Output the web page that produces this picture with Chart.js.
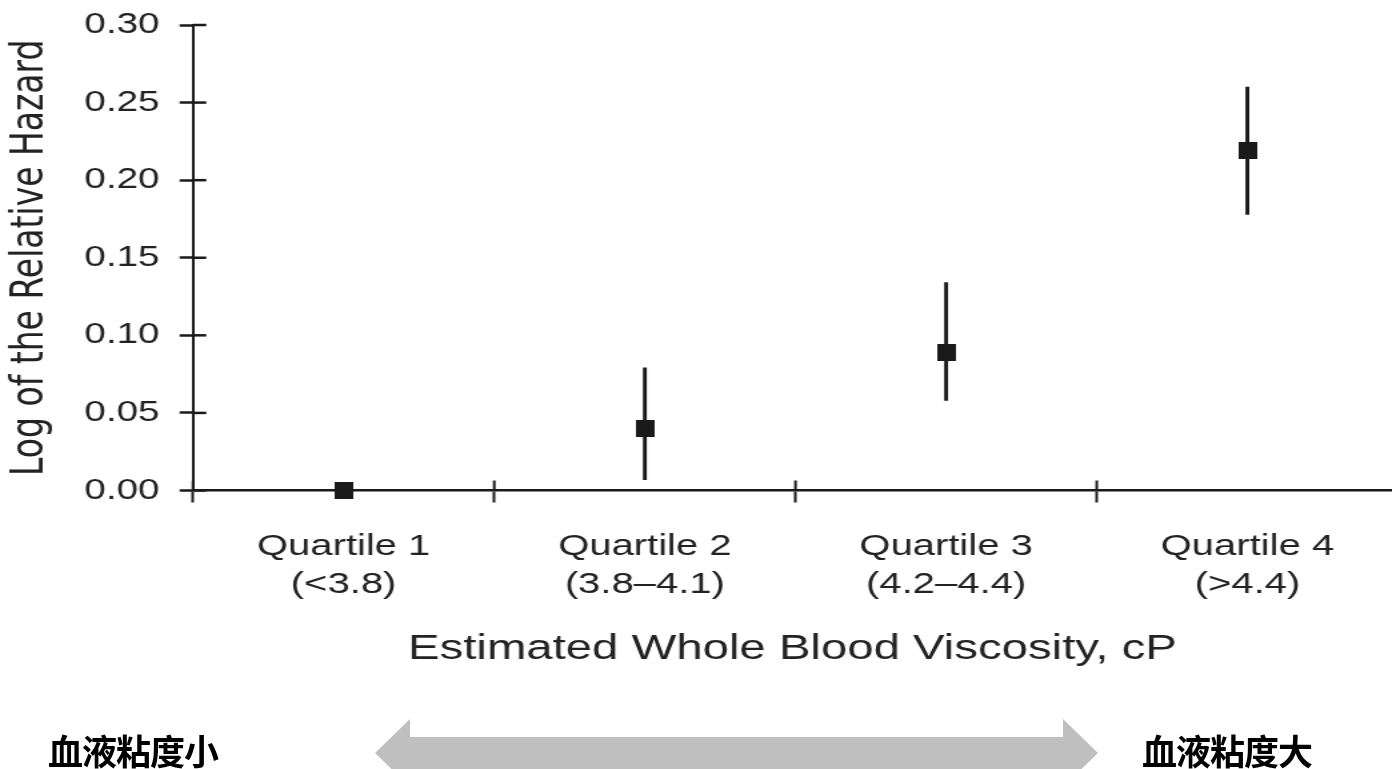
<!DOCTYPE html>
<html>
<head>
<meta charset="utf-8">
<script src="https://cdn.jsdelivr.net/npm/chart.js@4.4.1/dist/chart.umd.min.js"></script>
<style>
html,body{margin:0;padding:0;background:#fff;width:1392px;height:769px;overflow:hidden;}
#wrap{position:absolute;left:0;top:0;width:1044px;height:700px;transform:scaleX(1.3333333);transform-origin:0 0;}
#arrow{position:absolute;left:0;top:0;}
.cn{position:absolute;top:732px;font-family:"Noto Sans CJK SC";font-weight:700;font-size:35px;line-height:35px;letter-spacing:-1px;color:#000;white-space:nowrap;}
</style>
</head>
<body>
<div id="wrap"><canvas id="c"></canvas></div>
<svg id="arrow" width="1392" height="769">
  <polygon points="375,753 410,719 410,737 1063,737 1063,719 1098,753 1063,787 1063,769 410,769 410,787" fill="#bfbfbf"/>
</svg>
<div class="cn" style="left:48px">血液粘度小</div>
<div class="cn" style="left:1142px">血液粘度大</div>
<script>
// ---- data ----
const categories = ['Quartile 1', 'Quartile 2', 'Quartile 3', 'Quartile 4'];
const ranges = ['(<3.8)', '(3.8–4.1)', '(4.2–4.4)', '(>4.4)'];
const estimates = [0, 0.040, 0.089, 0.219];
const lowerCI = [null, 0.007, 0.058, 0.178];
const upperCI = [null, 0.079, 0.134, 0.260];
const yTickValues = [0, 0.05, 0.10, 0.15, 0.20, 0.25, 0.30];
const yTickLabels = ['0.00', '0.05', '0.10', '0.15', '0.20', '0.25', '0.30'];
const yTitle = 'Log of the Relative Hazard';
const xTitle = 'Estimated Whole Blood Viscosity, cP';

// ---- derived ----
const catPos = categories.map((c, i) => i + 1);
const xTickValues = [];
catPos.forEach(p => { xTickValues.push(p - 0.5, p); });

const ink = '#1a1a1a';
const textColor = '#222';

const sq = document.createElement('canvas');
sq.width = 14; sq.height = 17;
const sctx = sq.getContext('2d');
sctx.fillStyle = ink; sctx.fillRect(0, 0, 14, 17);

const innerTicks = {
  id: 'innerTicks',
  beforeDatasetsDraw(chart) {
    const {ctx, chartArea, scales: {x, y}} = chart;
    ctx.save();
    ctx.strokeStyle = ink;
    ctx.lineWidth = 2.5;
    y.ticks.forEach(t => {
      const py = y.getPixelForValue(t.value);
      ctx.beginPath(); ctx.moveTo(chartArea.left, py); ctx.lineTo(chartArea.left + 10, py); ctx.stroke();
    });
    ctx.lineWidth = 2;
    x.ticks.forEach(t => {
      if (Number.isInteger(t.value)) return;
      const px = x.getPixelForValue(t.value);
      ctx.beginPath(); ctx.moveTo(px, chartArea.bottom); ctx.lineTo(px, chartArea.bottom - 10); ctx.stroke();
    });
    ctx.restore();
  }
};

new Chart(document.getElementById('c'), {
  type: 'scatter',
  data: {
    datasets: [
      {
        type: 'scatter',
        label: 'Estimate',
        data: catPos.map((p, i) => ({x: p, y: estimates[i]})),
        pointStyle: sq,
        pointRadius: 9,
        pointHoverRadius: 9,
        clip: false,
        order: 0
      },
      {
        type: 'bar',
        label: '95% CI',
        data: catPos.map((p, i) => lowerCI[i] == null ? null : {x: p, y: [lowerCI[i], upperCI[i]]}).filter(d => d),
        backgroundColor: ink,
        borderWidth: 0,
        barThickness: 2.25,
        order: 1
      }
    ]
  },
  options: {
    responsive: true,
    maintainAspectRatio: false,
    animation: false,
    layout: {padding: {top: 25, left: 0, right: 0, bottom: 0}, autoPadding: false},
    plugins: {legend: {display: false}, tooltip: {enabled: false}},
    scales: {
      x: {
        type: 'linear',
        min: 0.5,
        max: 4.48,
        offset: false,
        position: 'bottom',
        afterBuildTicks: s => { s.ticks = xTickValues.map(v => ({value: v})); },
        afterFit: s => { s.height = 209.5; s.paddingLeft = 0; s.paddingRight = 0; },
        border: {display: true, color: ink, width: 2.5},
        grid: {
          offset: false,
          drawOnChartArea: false,
          drawTicks: true,
          tickLength: 12,
          tickWidth: 2,
          tickColor: ctx => (ctx.tick && Number.isInteger(ctx.tick.value)) ? 'rgba(0,0,0,0)' : ink
        },
        ticks: {
          autoSkip: false,
          maxRotation: 0,
          padding: 25,
          color: textColor,
          font: {family: 'Liberation Sans', size: 30, lineHeight: 1.27},
          callback: v => Number.isInteger(v) ? [categories[v - 1], ranges[v - 1]] : ''
        },
        title: {
          display: true,
          text: xTitle,
          color: textColor,
          font: {family: 'Liberation Sans', size: 35.5},
          padding: {top: 0, bottom: 29}
        }
      },
      y: {
        type: 'linear',
        min: 0,
        max: 0.30,
        afterBuildTicks: s => { s.ticks = yTickValues.map(v => ({value: v})); },
        afterFit: s => { s.width = 144.75; s.paddingTop = 0; s.paddingBottom = 0; },
        border: {display: true, color: ink, width: 2},
        grid: {drawOnChartArea: false, drawTicks: true, tickLength: 10, tickWidth: 2.5, tickColor: ink},
        ticks: {
          padding: 15,
          color: textColor,
          font: {family: 'Liberation Sans', size: 29},
          callback: (v, i) => yTickLabels[i]
        },
        title: {
          display: true,
          text: yTitle,
          color: textColor,
          font: {family: 'DejaVu Sans', size: 33},
          padding: {top: 4, bottom: 0}
        }
      }
    }
  },
  plugins: [innerTicks]
});
</script>
</body>
</html>
